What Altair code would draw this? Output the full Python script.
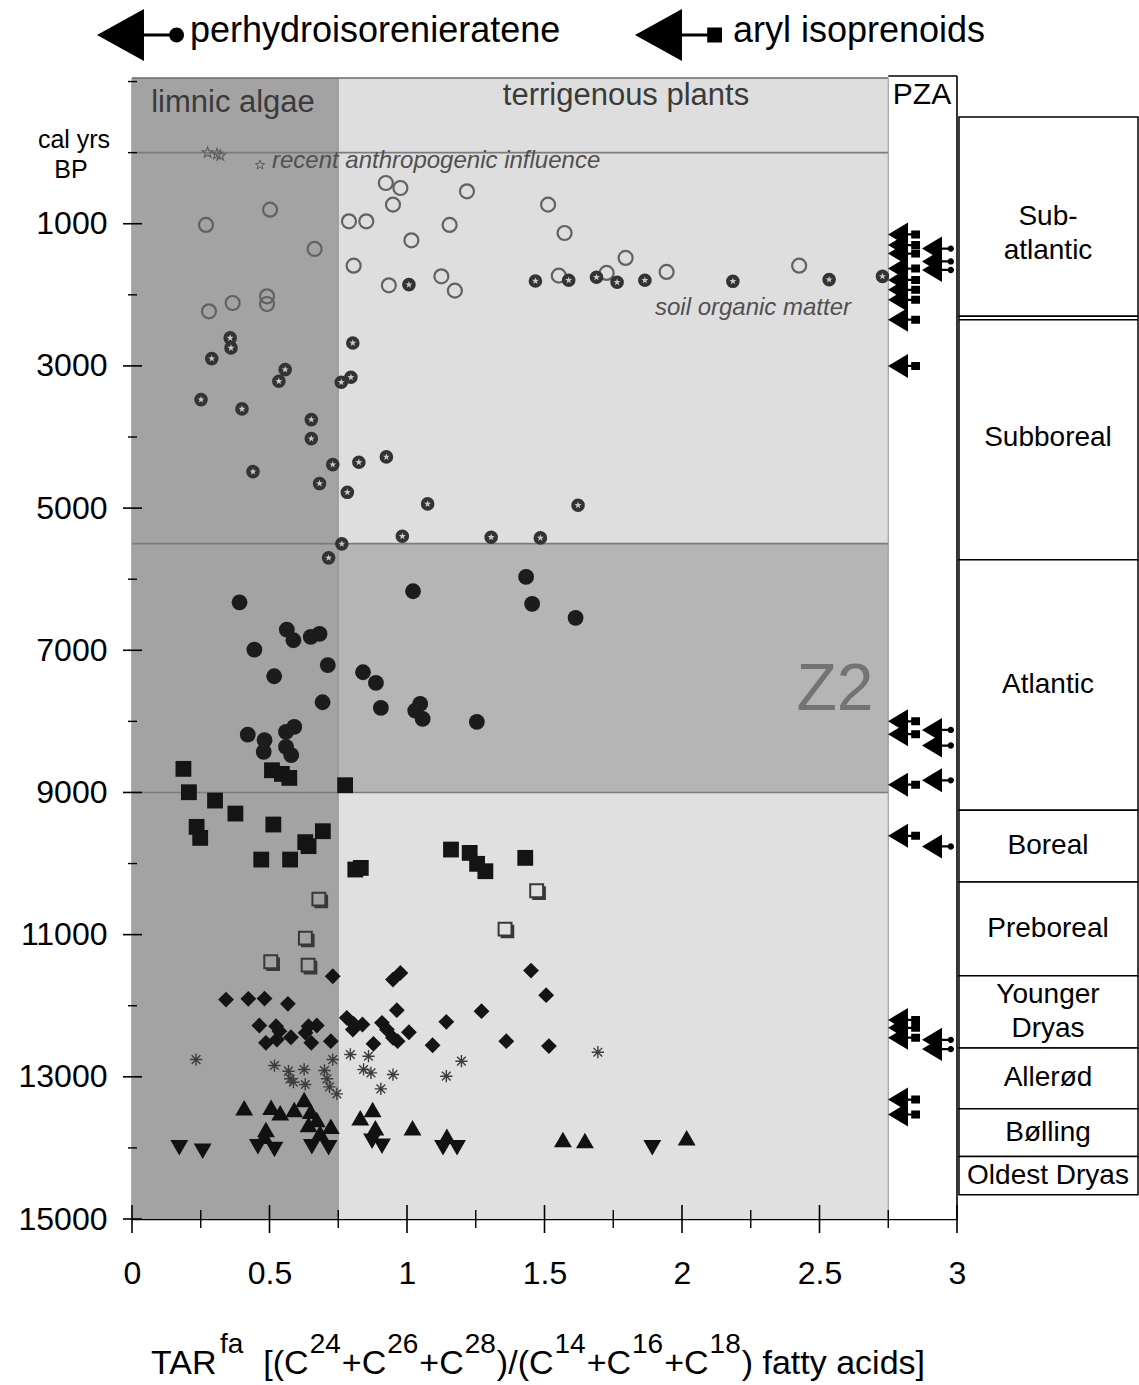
import altair as alt
import pandas as pd

FONT = "Liberation Sans"

# ---------------- TAR_fa ratio (x) against calibrated age in cal yrs BP (y) ----------------
recent_x = [0.275, 0.309, 0.321]
recent_y = [0, 20, 40]

open_circle_x = [0.923, 0.976, 1.218, 0.502, 0.949, 0.269, 0.789, 0.852, 1.155, 1.016, 0.664,
                 0.806, 1.125, 0.934, 1.174, 0.491, 0.491, 0.366, 0.280, 1.513, 1.573, 1.795,
                 1.552, 1.726, 1.944, 2.426]
open_circle_y = [427, 497, 544, 802, 731, 1017, 966, 966, 1017, 1233, 1355,
                 1590, 1740, 1866, 1941, 2021, 2129, 2115, 2232, 731, 1130, 1481,
                 1730, 1692, 1678, 1590]

ring_x = [1.007, 1.467, 1.588, 1.689, 1.764, 1.865, 2.185, 2.535, 2.729,
          0.357, 0.360, 0.290, 0.803, 0.557, 0.534, 0.796, 0.761, 0.251, 0.400, 0.652,
          0.652, 0.925, 0.825, 0.730, 0.440, 0.682, 0.783, 1.075, 0.983, 1.306, 0.763,
          0.715, 1.622, 1.485]
ring_y = [1857, 1805, 1795, 1753, 1824, 1795, 1810, 1786, 1740,
          2606, 2747, 2897, 2677, 3052, 3216, 3160, 3230, 3474, 3605, 3755,
          4023, 4280, 4356, 4388, 4487, 4655, 4778, 4941, 5396, 5410, 5503,
          5700, 4960, 5419]

dot_x = [0.391, 1.022, 1.433, 1.455, 1.613, 0.563, 0.587, 0.650, 0.682, 0.445, 0.712,
         0.517, 0.840, 0.887, 0.693, 0.905, 1.048, 1.030, 1.057, 1.254, 0.421, 0.482,
         0.479, 0.590, 0.560, 0.560, 0.579]
dot_y = [6325, 6170, 5968, 6347, 6544, 6709, 6859, 6812, 6770, 6990, 7210,
         7365, 7309, 7459, 7731, 7810, 7754, 7848, 7965, 8007, 8186, 8265,
         8429, 8077, 8148, 8359, 8476]

square_x = [0.187, 0.509, 0.545, 0.572, 0.775, 0.207, 0.302, 0.376, 0.235, 0.248, 0.514,
            0.694, 0.630, 0.642, 0.470, 0.575, 1.160, 1.228, 1.255, 1.285, 1.430, 0.812,
            0.832]
square_y = [8668, 8688, 8739, 8795, 8898, 8997, 9114, 9297, 9484, 9639, 9451,
            9545, 9699, 9755, 9944, 9944, 9803, 9850, 10004, 10108, 9920, 10084,
            10061]

open_square_x = [0.681, 1.473, 0.632, 1.358, 0.506, 0.642]
open_square_y = [10506, 10389, 11055, 10928, 11388, 11435]

diamond_x = [0.730, 0.949, 0.976, 1.451, 1.506, 0.342, 0.423, 0.482, 0.567, 0.963, 1.271,
             1.143, 0.463, 0.524, 0.536, 0.642, 0.672, 0.781, 0.806, 0.838, 0.909, 0.927,
             0.803, 1.007, 0.949, 0.966, 0.578, 0.487, 0.527, 0.652, 0.631, 0.723, 0.878,
             1.093, 1.361, 1.516]
diamond_y = [11585, 11632, 11538, 11505, 11852, 11913, 11903, 11899, 11973, 12063, 12077,
             12227, 12278, 12288, 12358, 12288, 12278, 12170, 12255, 12264, 12241, 12335,
             12335, 12373, 12452, 12499, 12443, 12522, 12475, 12522, 12381, 12499, 12536,
             12556, 12499, 12567]

asterisk_x = [0.233, 0.518, 0.569, 0.575, 0.587, 0.626, 0.630, 0.700, 0.709, 0.718, 0.745,
              0.730, 0.794, 0.860, 0.842, 0.869, 0.949, 0.905, 1.143, 1.198, 1.694]
asterisk_y = [12757, 12841, 12921, 13028, 13076, 12897, 13108, 12911, 13028, 13141, 13240,
              12757, 12686, 12710, 12897, 12944, 12968, 13169, 12991, 12780, 12654]

tri_up_x = [0.408, 0.506, 0.539, 0.590, 0.626, 0.650, 0.672, 0.642, 0.723, 0.684, 0.487,
            0.481, 0.830, 0.875, 0.885, 1.020, 1.145, 1.567, 1.647, 2.017]
tri_up_y = [13436, 13427, 13506, 13460, 13319, 13484, 13601, 13671, 13695, 13788, 13741,
            13835, 13577, 13460, 13717, 13717, 13835, 13882, 13896, 13858]

tri_down_x = [0.172, 0.257, 0.458, 0.518, 0.654, 0.715, 0.873, 0.909, 1.131, 1.182, 1.892]
tri_down_y = [13999, 14046, 13985, 14023, 13985, 13999, 13905, 13975, 13999, 13999, 13999]

# photic-zone anoxia indicators (ages in cal yrs BP)
aryl_y = [1150, 1300, 1420, 1630, 1790, 1930, 2070, 2350, 3000,
          8000, 8180, 8890, 9610, 12200, 12310, 12450, 13320, 13530]
perhydro_y = [1350, 1530, 1650, 8120, 8340, 8830, 9760, 12480, 12610]

# background zones: TAR range x age range
zone_x1 = [0.0, 0.75, 0.75, 0.75, 2.75]
zone_x2 = [0.75, 2.75, 2.75, 2.75, 3.0]
zone_y1 = [-1050, -1050, 5500, 9000, -1050]
zone_y2 = [15000, 5500, 9000, 15000, 15000]
zone_fill = ["#a3a3a3", "#dedede", "#b5b5b5", "#e0e0e0", "#ffffff"]
zone_lines = [0, 5500, 9000]

# chronozones
period_name = ["Sub-\natlantic", "Subboreal", "Atlantic", "Boreal", "Preboreal",
               "Younger\nDryas", "Allerød", "Bølling", "Oldest Dryas"]
period_start = [-500, 2300, 5725, 9250, 10260, 11580, 12595, 13450, 14120]
period_end = [2300, 5725, 9250, 10260, 11580, 12595, 13450, 14120, 14660]
double_line = [2350]

y_major = [1000, 3000, 5000, 7000, 9000, 11000, 13000, 15000]
y_minor = [-1000, 0, 2000, 4000, 6000, 8000, 10000, 12000, 14000]
x_major = [0, 0.5, 1, 1.5, 2, 2.5, 3]
x_minor = [0.25, 0.75, 1.25, 1.75, 2.25, 2.75]

# ---------------- layout ----------------
W, H = 825, 1141
XS = alt.Scale(domain=[0, 3], nice=False, zero=False)
YS = alt.Scale(domain=[-1050, 15000], nice=False, zero=False, reverse=True)
X_AXIS = alt.Axis(values=x_major, title=None, grid=False, ticks=False, tickSize=0,
                  labelFont=FONT, labelFontSize=32, labelColor="black", labelPadding=39,
                  labelFlush=False, labelOverlap=False,
                  labelExpr="datum.value + ''", domainColor="black", domainWidth=1.6)
Y_AXIS = alt.Axis(values=y_major, title=None, grid=False, ticks=False, tickSize=0,
                  labelFont=FONT, labelFontSize=32, labelColor="black", labelPadding=25,
                  labelFlush=False, labelOverlap=False,
                  labelExpr="datum.value + ''", domainColor="black", domainWidth=1.6)


def X(f):
    return alt.X(f, type="quantitative", scale=XS, axis=X_AXIS)


def Y(f):
    return alt.Y(f, type="quantitative", scale=YS, axis=Y_AXIS)


def points(xs, ys, **mark):
    df = pd.DataFrame({"x": xs, "y": ys})
    return alt.Chart(df).mark_point(opacity=1, **mark).encode(x=X("x"), y=Y("y"))


def label(text, px, py, size, **kw):
    kw.setdefault("font", FONT)
    kw.setdefault("color", "black")
    return alt.Chart(pd.DataFrame({"t": [text]})).mark_text(fontSize=size, **kw).encode(
        text="t", x=alt.value(px), y=alt.value(py))


# marker paths (unit box -1..1)
STAR = ("M0,-1L0.235,-0.324L0.951,-0.309L0.38,0.124L0.588,0.809L0,0.4L-0.588,0.809"
        "L-0.38,0.124L-0.951,-0.309L-0.235,-0.324Z")
ASTERISK = "M-1,0L1,0M0,-1L0,1M-0.71,-0.71L0.71,0.71M-0.71,0.71L0.71,-0.71"
SHADOW_SQUARE = "M-0.85,-0.85L0.75,-0.85L0.75,0.75L-0.85,0.75Z M0.97,-0.6L0.97,0.97L-0.6,0.97"
ARROW_SQ_BIG = ("M-1,0L0.08,-0.6L0.08,-0.035L0.66,-0.035L0.66,-0.17L1,-0.17L1,0.17"
                "L0.66,0.17L0.66,0.035L0.08,0.035L0.08,0.6Z")
ARROW_DOT_BIG = ("M-1,0L0.08,-0.6L0.08,-0.035L0.68,-0.035L0.68,0.035L0.08,0.035L0.08,0.6Z"
                 "M0.66,0A0.17,0.17 0 1,1 1,0A0.17,0.17 0 1,1 0.66,0Z")
ARROW_SQ = ("M-1,0L0.25,-0.75L0.25,-0.07L0.45,-0.07L0.45,-0.25L1,-0.25L1,0.25"
            "L0.45,0.25L0.45,0.07L0.25,0.07L0.25,0.75Z")
ARROW_DOT = ("M-1,0L0.25,-0.75L0.25,-0.07L0.62,-0.07L0.62,0.07L0.25,0.07L0.25,0.75Z"
             "M0.6,0A0.2,0.2 0 1,1 1,0A0.2,0.2 0 1,1 0.6,0Z")

layers = []

# shaded zones
zones = pd.DataFrame({"x1": zone_x1, "x2": zone_x2, "y1": zone_y1, "y2": zone_y2, "c": zone_fill})
layers.append(alt.Chart(zones).mark_rect().encode(
    x=X("x1"), x2=alt.X2("x2"), y=Y("y1"), y2=alt.Y2("y2"),
    color=alt.Color("c", scale=None)))

# zone boundaries
layers.append(alt.Chart(pd.DataFrame({"y": zone_lines, "a": 0.0, "b": 2.75})).mark_rule(
    color="#7c7c7c", strokeWidth=1.6).encode(x=X("a"), x2=alt.X2("b"), y=Y("y")))
layers.append(alt.Chart(pd.DataFrame({"x": [0.75, 2.75]})).mark_rule(
    color="#8e8e8e", strokeWidth=1).encode(x=X("x"), y=alt.value(0), y2=alt.value(H)))
layers.append(alt.Chart(pd.DataFrame({"a": [0.0], "b": [2.75]})).mark_rule(
    color="#6a6a6a", strokeWidth=1.6).encode(x=X("a"), x2=alt.X2("b"), y=alt.value(0)))
# PZA frame
layers.append(alt.Chart(pd.DataFrame({"a": [2.75], "b": [3.0]})).mark_rule(
    color="black", strokeWidth=1.6).encode(x=X("a"), x2=alt.X2("b"), y=alt.value(-2)))
layers.append(alt.Chart(pd.DataFrame({"x": [3.0]})).mark_rule(
    color="black", strokeWidth=1.6).encode(x=X("x"), y=alt.value(-2), y2=alt.value(H)))

# axis ticks crossing the axis lines
layers.append(alt.Chart(pd.DataFrame({"t": y_major})).mark_rule(color="black", strokeWidth=1.6)
              .encode(y=Y("t"), x=alt.value(-9), x2=alt.value(10)))
layers.append(alt.Chart(pd.DataFrame({"t": y_minor})).mark_rule(color="black", strokeWidth=1.4)
              .encode(y=Y("t"), x=alt.value(-4), x2=alt.value(5)))
layers.append(alt.Chart(pd.DataFrame({"t": x_major})).mark_rule(color="black", strokeWidth=1.6)
              .encode(x=X("t"), y=alt.value(H - 14), y2=alt.value(H + 14)))
layers.append(alt.Chart(pd.DataFrame({"t": x_minor})).mark_rule(color="black", strokeWidth=1.4)
              .encode(x=X("t"), y=alt.value(H - 9), y2=alt.value(H + 9)))

# data points
layers.append(points(recent_x, recent_y, shape=STAR, filled=False, stroke="#5e5e5e",
                     strokeWidth=1.1, size=130))
layers.append(points(open_circle_x, open_circle_y, shape="circle", filled=False,
                     stroke="#626262", strokeWidth=2.2, size=196))
layers.append(points(ring_x, ring_y, shape="circle", filled=True, fill="#333333",
                     strokeWidth=0, size=185))
layers.append(points(ring_x, ring_y, shape=STAR, filled=True, fill="#c9c9c9",
                     strokeWidth=0, size=55))
layers.append(points(dot_x, dot_y, shape="circle", filled=True, fill="#1c1c1c",
                     strokeWidth=0, size=250))
layers.append(points(square_x, square_y, shape="square", filled=True, fill="#141414",
                     strokeWidth=0, size=250))
layers.append(points(open_square_x, open_square_y, shape=SHADOW_SQUARE, filled=False,
                     stroke="#383838", strokeWidth=2, size=260))
layers.append(points(diamond_x, diamond_y, shape="diamond", filled=True, fill="#141414",
                     strokeWidth=0, size=250))
layers.append(points(asterisk_x, asterisk_y, shape=ASTERISK, filled=False,
                     stroke="#3c3c3c", strokeWidth=1.4, size=150))
layers.append(points(tri_up_x, tri_up_y, shape="triangle-up", filled=True, fill="#111111",
                     strokeWidth=0, size=320))
layers.append(points(tri_down_x, tri_down_y, shape="triangle-down", filled=True, fill="#111111",
                     strokeWidth=0, size=320))

# PZA arrows
layers.append(alt.Chart(pd.DataFrame({"y": aryl_y})).mark_point(
    shape=ARROW_SQ, filled=True, fill="black", strokeWidth=0, size=1024, opacity=1).encode(
    x=alt.value(772), y=Y("y")))
layers.append(alt.Chart(pd.DataFrame({"y": perhydro_y})).mark_point(
    shape=ARROW_DOT, filled=True, fill="black", strokeWidth=0, size=1024, opacity=1).encode(
    x=alt.value(806), y=Y("y")))

# top key
layers.append(alt.Chart(pd.DataFrame({"k": [0]})).mark_point(
    shape=ARROW_DOT_BIG, filled=True, fill="black", strokeWidth=0, size=7569, opacity=1).encode(
    x=alt.value(8.5), y=alt.value(-43)))
layers.append(alt.Chart(pd.DataFrame({"k": [0]})).mark_point(
    shape=ARROW_SQ_BIG, filled=True, fill="black", strokeWidth=0, size=7569, opacity=1).encode(
    x=alt.value(546.5), y=alt.value(-43)))
layers.append(label("perhydroisorenieratene", 58, -47, 36, align="left", baseline="middle"))
layers.append(label("aryl isoprenoids", 601, -47, 36, align="left", baseline="middle"))

# zone and annotation texts
layers.append(label("limnic algae", 101, 25, 31, color="#3a3a3a", baseline="middle"))
layers.append(label("terrigenous plants", 494, 18, 31, color="#3a3a3a", baseline="middle"))
layers.append(label("PZA", 790, 17, 30, baseline="middle"))
layers.append(label("recent anthropogenic influence", 140, 83, 24, align="left",
                    baseline="middle", fontStyle="italic", color="#505050"))
layers.append(alt.Chart(pd.DataFrame({"k": [0]})).mark_point(
    shape=STAR, filled=False, stroke="#5e5e5e", strokeWidth=1, size=100, opacity=1).encode(
    x=alt.value(128), y=alt.value(87)))
layers.append(label("soil organic matter", 621, 230, 24, fontStyle="italic", color="#505050",
                    baseline="middle"))
layers.append(label("Z2", 703, 612, 66, color="#737373", baseline="middle"))
layers.append(label("cal yrs", -58, 62, 25, baseline="middle"))
layers.append(label("BP", -61, 92, 25, baseline="middle"))

# chronozone column
periods = pd.DataFrame({"name": period_name, "s": period_start, "e": period_end})
# labels are centred on the part of each zone that lies before present (>= 0 BP)
periods["mid"] = (periods["s"].clip(lower=0) + periods["e"]) / 2
periods["lines"] = periods["name"].str.count("\n") + 1
layers.append(alt.Chart(periods).mark_rect(fill="white", stroke="black", strokeWidth=1.5).encode(
    y=Y("s"), y2=alt.Y2("e"), x=alt.value(827), x2=alt.value(1006)))
layers.append(alt.Chart(pd.DataFrame({"y": double_line})).mark_rule(
    color="black", strokeWidth=1.5).encode(y=Y("y"), x=alt.value(827), x2=alt.value(1006)))
layers.append(alt.Chart(periods).transform_filter("datum.lines == 1").mark_text(
    font=FONT, fontSize=28, color="black", baseline="middle").encode(
    text="name", y=Y("mid"), x=alt.value(916)))
layers.append(alt.Chart(periods).transform_filter("datum.lines > 1").mark_text(
    font=FONT, fontSize=28, color="black", lineBreak="\n", lineHeight=34, baseline="middle",
    dy=-17).encode(text="name", y=Y("mid"), x=alt.value(916)))

# x title with raised indices, laid out from Arial advance widths
ADV = {"T": .611, "A": .667, "R": .722, "f": .278, "a": .556, "[": .278, "(": .333,
       "C": .722, "+": .584, ")": .333, "/": .278, " ": .278, "t": .278, "y": .5,
       "c": .5, "i": .222, "d": .556, "s": .5, "]": .278}
BASE, SUP = 34, 28
title_parts = [("TAR", 0), ("fa", 1), ("[(C", 0), ("24", 1), ("+C", 0), ("26", 1), ("+C", 0),
               ("28", 1), (")/(C", 0), ("14", 1), ("+C", 0), ("16", 1), ("+C", 0), ("18", 1),
               (") fatty acids]", 0)]
widths = []
for txt, sup in title_parts:
    fs = SUP if sup else BASE
    widths.append(sum(ADV.get(ch, .556) for ch in txt) * fs)
gaps = [20 if t == "[(C" else 1 for t, _ in title_parts]
total = sum(widths) + sum(gaps[1:])
cursor = 406 - total / 2
for i, ((txt, sup), w) in enumerate(zip(title_parts, widths)):
    if i > 0:
        cursor += gaps[i]
    layers.append(label(txt, cursor, 1275 if sup else 1296, SUP if sup else BASE,
                        align="left", baseline="alphabetic"))
    cursor += w

chart = alt.layer(*layers).properties(
    width=W, height=H,
    autosize=alt.AutoSizeParams(type="none"),
    padding={"left": 132, "top": 78, "right": 182, "bottom": 166},
    background="white",
).configure_view(strokeWidth=0)

chart.save("out.html", embed_options={"renderer": "svg", "actions": False})
